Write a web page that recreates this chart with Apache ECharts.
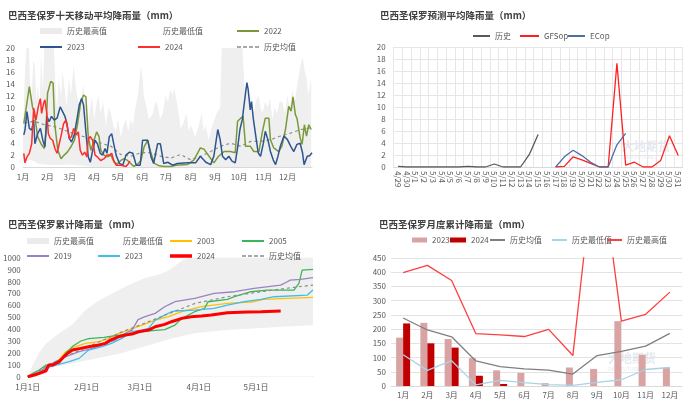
<!DOCTYPE html>
<html>
<head>
<meta charset="utf-8">
<script src="https://cdn.jsdelivr.net/npm/echarts@6/dist/echarts.min.js"></script>
<style>
  html, body { margin: 0; padding: 0; background: #fff; }
  .box { position: absolute; }
</style>
</head>
<body>
<div id="rain10" class="box" style="left:0;top:0;width:350px;height:200px;"></div>
<div id="rainFcst" class="box" style="left:350px;top:0;width:350px;height:200px;"></div>
<div id="rainCum" class="box" style="left:0;top:200px;width:350px;height:205px;"></div>
<div id="rainMonth" class="box" style="left:350px;top:200px;width:350px;height:205px;"></div>
<script>
var FONT = "'Noto Sans CJK SC', 'Noto Sans', sans-serif";

// ---- 十天移动平均降雨量 [日序号, mm] ----
var histMax10 = [[0,6],[2.5,16],[4.4,20],[7.6,20],[9,14],[11,12],[13,18],[15,17],[17,11],[19,14],[21,9],[22.7,19],[25,13],[27,20],[29,20],[35,20],[39,20],[41.6,12],[43,9.6],[45,15],[48,12],[50,16],[52,14],[55,10],[58,15],[60.5,12],[64,17],[67,13],[70,11],[73,10],[76,14],[78,11],[82,7.5],[85,10],[87,12],[90,8],[92,10],[95,12],[98,9],[101,11],[104.6,7],[108,10],[111,9],[114,7],[117,6],[120,8],[123.5,5],[127,7],[130,8],[133,6],[136,8],[139,7],[142,10],[145,12],[149,17],[151,15],[152.5,12],[156,10],[159,8],[164,9],[167,11],[170,10.4],[173,8],[176.5,9],[180,12],[183,11],[186,13],[189,12],[191,13.3],[193,13],[196.6,9],[199,6.5],[201.7,7],[204,8],[206.7,9],[209,6],[212,7],[215,6],[217,5],[220,6],[222,7],[225.6,9],[228,6],[230.6,7],[234.4,4.5],[237,6],[239.5,7],[242,8],[244.5,9],[249,10],[251,20],[277,20],[280,13],[283,14],[285,11],[288,12],[291,9],[294,11],[297.5,12],[300,10],[302.5,9],[306,11],[309,10],[312,11.6],[315,8],[318,10],[321,9],[324,11],[327.7,11],[331,9],[334,12],[337,10],[340,13],[343,11],[346.6,14],[350.4,17],[353,18.5],[356,16],[358,15],[360.5,12],[364,15]];
var histMin10 = [[0,0.8],[10,1.2],[20,0.5],[40,0.3],[60,0.4],[90,0],[365,0]];
var rain2022 = [[1,7.3],[8,13.5],[12,10.1],[14,9.3],[18.5,5.1],[22.7,3.9],[27,3.1],[29,6.2],[31,12.4],[35,14.4],[38,14.1],[40,7.3],[44,2.8],[48,1.4],[52,2],[56,2.5],[60.5,3.4],[65,4.5],[69,7.3],[73,11],[76.5,12.1],[79.4,11.8],[82.4,5.1],[85.7,2.8],[89,4.2],[93,5.9],[96,5.1],[98.3,2.8],[102.5,2],[106.7,1.7],[111,2],[115,0.8],[119,0.5],[123.5,1.1],[127.7,1.4],[132,1.1],[136,0.6],[140,0.1],[145,0.5],[149,1.1],[153,3.4],[157.5,4.5],[161.7,2.3],[166,0.6],[172,0.2],[178,0.1],[187,0.1],[193,0.3],[207.5,0.4],[216,1.2],[224,3.2],[228.5,3],[235,1.8],[241,0.7],[247,1.8],[254,2.6],[262,2.6],[268,2.4],[271,7.7],[275,8.2],[278,8.5],[281,3.5],[287,3.5],[291.5,2.6],[298,2.6],[302,5.7],[306,8.2],[310.5,8.2],[312.5,4.6],[316.7,3.2],[323,2.6],[327,3.5],[331.5,6.3],[335.6,10.2],[338.6,9.4],[341,11.8],[344,8.8],[346,8.2],[350,4.9],[352.5,3.8],[355.4,7.1],[358,5.2],[361,7.1],[364,6.3]];
var rain2023 = [[1,5.4],[2.5,6.2],[5,9.3],[8,6.5],[11,6.2],[13.5,7.9],[15,3.9],[18.5,5.6],[22,6.5],[25,4.5],[27.7,3.4],[30.3,8.5],[33,7.6],[36,8.5],[39.5,7.9],[43,8.2],[47,10.1],[50,9.3],[53,8.5],[55.5,7.3],[58.4,4.8],[61.3,4.2],[64.7,5.4],[68,7.9],[71,10.4],[74,11.5],[76.5,10.4],[79.4,5.9],[82.4,1.7],[85,0.8],[88,2.8],[91,4.5],[94,3.9],[97.5,2.3],[100.6,2],[103.6,3.1],[106,2.3],[109,5.1],[112,5.6],[114.6,3.9],[117.6,2],[121.8,0.6],[126,0.3],[130,2],[134.5,2.5],[138.7,2.3],[143,0.3],[148,0.3],[151,4.5],[157.5,4.5],[161.7,1.7],[165,0.6],[170,3.9],[173.5,3.9],[177.7,0.6],[182.8,0.8],[189,0.3],[195,0.6],[207.5,0.7],[218,0.7],[224,1.8],[231,0.8],[237,0.4],[241,1.8],[246,6.3],[249,4.6],[252,1.8],[256,1.2],[260,1.8],[264,1],[268,0.7],[271,3.2],[274,6.3],[277,8],[280,11.3],[282.8,14.2],[284.4,13],[287,9.6],[288.6,11],[291,8],[294,5.2],[297,2.4],[300,1.8],[303.6,4],[306,6],[309.3,4.6],[312.5,2.6],[316,1.2],[319,0.4],[322,1.8],[325,3.5],[329.6,5.2],[334,4.6],[338,3.5],[342,2.6],[346,3.8],[350,4],[353,2.4],[355,0.4],[359,1.8],[362,1.9],[365,2.4]];
var rain2024 = [[1,2.3],[2.5,0.7],[5,1.7],[8,2.3],[11,3.9],[13.5,9.9],[16.4,7.9],[19.3,10.1],[21.9,11.5],[23.5,9],[26,10.7],[27.7,11.3],[30.3,8.7],[32,5.6],[34.5,4.8],[37.5,4.5],[40.3,3.1],[43,2.3],[45.8,3.9],[48.7,5.6],[51.3,7.3],[54.2,7.9],[56.3,6.5],[58.4,4.8],[61.3,5.1],[64,6.5],[66.8,5.4],[69.8,5.9],[72.3,2.8],[75.2,2],[78,2.5],[80.7,1.7],[82.4,4.8],[85,5.1],[88,4.5],[91,2],[94,1.7],[98,1.1],[102.5,1.4],[106,2],[109,2],[112,2.3],[114.6,1.1],[117.6,0.3],[124,0.3],[130,0.1],[133.3,0.6],[135,1]];
var mean10 = [[1.7,7.4],[14.3,7.7],[26.9,7.1],[39.5,6.8],[56.3,6],[68.9,5.4],[81.5,4.9],[98.3,4],[111,3.5],[123.5,2.1],[136,1.8],[148.7,2.4],[161.3,2.4],[174,1.8],[186.6,1.5],[199,2.1],[211.8,1.2],[224.4,1.8],[237,2.6],[249.6,3.5],[262,4],[275,3.5],[287.6,4.3],[300,4.3],[313,4.6],[325,5.2],[338,5.7],[350.8,6.3],[365,6.6]];
var monthStart = [0,31,59,90,120,151,181,212,243,273,304,334];
var monthName = ['1月','2月','3月','4月','5月','6月','7月','8月','9月','10月','11月','12月'];

// ---- 预测平均降雨量 ----
var fcstDates = ['4/29','4/30','5/1','5/2','5/3','5/4','5/5','5/6','5/7','5/8','5/9','5/10','5/11','5/12','5/13','5/14','5/15','5/16','5/17','5/18','5/19','5/20','5/21','5/22','5/23','5/24','5/25','5/26','5/27','5/28','5/29','5/30','5/31'];
var fcstHist = [0.1,0,0,0,0,0,0,0,0.1,0,0,0.5,0,0,0,2.1,5.4,null,null,null,null,null,null,null,null,null,null,null,null,null,null,null,null];
var fcstGfs = [null,null,null,null,null,null,null,null,null,null,null,null,null,null,null,null,null,null,0,0.1,1.7,1.2,0.6,0,0,17.3,0.3,0.8,0,0,1.1,5.2,1.9];
var fcstEc = [null,null,null,null,null,null,null,null,null,null,null,null,null,null,null,null,null,null,0,1.7,2.8,1.9,0.8,0,0,3.7,5.6,null,null,null,null,null,null];

// ---- 累计降雨量 [日序号, mm] ----
var cumMax = [[0,0],[2.6,100],[6,200],[9.6,280],[16.5,364],[23.5,440],[30.4,560],[37.4,640],[44.3,700],[53,770],[61.7,830],[70.4,865],[75,900],[81,975],[86,1010],[95,1040],[150,1100]];
var cumMin = [[0,0],[2.6,10],[14.6,84],[32,140],[49.5,200],[66.8,280],[75.6,320],[87.6,365],[105,392],[122.6,410],[150,434]];
var cum2003 = [[0,0],[5,30],[10,80],[14.8,112],[20,210],[25,252],[30.4,280],[37.4,294],[42.6,322],[47.8,364],[53,392],[60,434],[67,476],[74,504],[81,546],[91.3,588],[105,616],[119,630],[124,650],[136.5,658],[150,667]];
var cum2005 = [[0,0],[2.6,28],[6,56],[9.6,98],[16.5,112],[20,200],[24,260],[28,300],[32,320],[40,330],[46,345],[52,356],[60,380],[67,390],[72,395],[77.4,434],[81,490],[87.8,546],[93,574],[94.8,630],[105,650],[108.7,672],[117.4,714],[126,728],[140,728],[142.6,785],[144.3,896],[150,902]];
var cum2019 = [[0,0],[6,40],[11,98],[20,168],[27,210],[34,238],[40.8,280],[46,308],[49.5,350],[54.8,392],[58,480],[61.7,504],[67,532],[72,588],[75.6,616],[77.4,630],[87.8,658],[98,700],[108.7,714],[119,742],[133,770],[136.5,798],[138,812],[143.5,818],[150,832]];
var cum2023 = [[0,0],[6,35],[11,80],[14.8,98],[21.8,126],[27,154],[32,224],[39,252],[44,280],[49.5,322],[54.8,378],[60,392],[63.5,406],[67,476],[72,518],[75.6,546],[77.4,552],[87.8,560],[98,574],[105,602],[113.9,630],[122.6,650],[129.5,672],[147,686],[150,728]];
var cum2024 = [[0,0],[3.5,14],[6.1,28],[9.6,50],[11,98],[13,98],[16.5,126],[19,168],[21,197],[23.5,224],[27.8,238],[32,252],[37.4,266],[40.8,280],[43.5,308],[47.8,336],[51.3,350],[54.8,358],[58.3,378],[63.5,392],[67,420],[72,440],[75.6,462],[81,490],[86,504],[91.3,510],[96.5,518],[105,538],[115.6,543],[122.6,546],[133,552]];
var cumMean = [[0,0],[5,40],[10,90],[20,170],[30,240],[40,310],[50,380],[60,440],[70,504],[79,560],[88,616],[105,672],[122.6,714],[140,751],[150,770]];
var cumTicks = [0,31,59,90,120];
var cumTickName = ['1月1日','2月1日','3月1日','4月1日','5月1日'];

// ---- 月度累计降雨量 ----
var months = ['1月','2月','3月','4月','5月','6月','7月','8月','9月','10月','11月','12月'];
var month2023 = [170,222,165,98,55,46,10,65,60,228,110,65];
var month2024 = [220,150,135,36,7,null,null,null,null,null,null,null];
var monthMean = [239,197,173,88,68,60,56,42,107,122,140,185];
var monthMin = [110,55,89,4,20,12,5,2,13,22,58,65];
var monthMax = [399,424,371,184,180,174,199,107,880,228,252,330];

var SOLID = 'path://M0,0h22v2h-22z';
var DASH = 'path://M0,0h4v2h-4zM6,0h4v2h-4zM12,0h4v2h-4zM18,0h4v2h-4z';

// 图例：每项单独放，位置对齐原图
function lg(left, cy, item, w, h) {
  return {
    left: left, top: cy - 6, data: [item], padding: 0, itemGap: 0,
    itemWidth: w || 22, itemHeight: h || 2, selectedMode: false, symbolKeepAspect: false,
    lineStyle: { width: 0 },
    textStyle: { color: '#595959', fontSize: 8, fontFamily: FONT }
  };
}
function ln(name, dashed) { return { name: name, icon: dashed ? DASH : SOLID }; }
function ttl(text, left, top) {
  return { text: text, left: left, top: top, padding: 0,
    textStyle: { fontSize: 9.5, fontWeight: 'bold', color: '#404040', fontFamily: FONT } };
}
function mark(left, top) {
  return { type: 'group', left: left, top: top, silent: true, children: [
    { type: 'text', left: 0, top: 0, style: { text: '大地期货', fontSize: 12, fontWeight: 'bold', fill: 'rgba(165,180,205,0.3)', fontFamily: FONT } },
    { type: 'text', left: 0, top: 15, style: { text: 'DADI FUTURES', fontSize: 5, fill: 'rgba(165,180,205,0.3)', fontFamily: FONT } }
  ] };
}
var axisTxt = { color: '#595959', fontSize: 8, fontFamily: FONT };
var plain = function (v) { return String(v); };

// 第一个图
var option = {
  animation: false,
  title: ttl('巴西圣保罗十天移动平均降雨量（mm）', 8, 11),
  legend: [
    lg(40, 33, { name: '历史最高值', icon: 'rect', itemStyle: { color: '#ebebeb' } }, 22, 6),
    lg(136, 33, { name: '历史最低值', icon: 'rect', itemStyle: { color: '#ffffff' } }, 22, 6),
    lg(237, 33, ln('2022')),
    lg(40, 49, ln('2023')),
    lg(138, 49, ln('2024')),
    lg(237, 49, ln('历史均值', true), 22, 1.5)
  ],
  grid: { left: 23, top: 48, width: 289, height: 119 },
  xAxis: { type: 'value', min: 0, max: 365,
    axisLine: { show: true, lineStyle: { color: '#d9d9d9' } }, axisTick: { show: false }, splitLine: { show: false },
    axisLabel: Object.assign({ customValues: monthStart, margin: 6, formatter: function (v) { return monthName[monthStart.indexOf(v)]; } }, axisTxt) },
  yAxis: { type: 'value', min: 0, max: 20, interval: 2,
    axisLine: { show: false }, axisTick: { show: false }, splitLine: { show: false },
    axisLabel: Object.assign({ margin: 8, formatter: plain }, axisTxt) },
  graphic: [mark(228, 135)],
  series: [
    { name: '历史最高值', type: 'line', data: histMax10, symbol: 'none', lineStyle: { width: 0 }, itemStyle: { color: '#ebebeb' }, areaStyle: { color: '#efefef', opacity: 1 }, z: 1 },
    { name: '历史最低值', type: 'line', data: histMin10, symbol: 'none', lineStyle: { width: 0 }, itemStyle: { color: '#ffffff' }, areaStyle: { color: '#ffffff', opacity: 1 }, z: 1 },
    { name: '2022', type: 'line', data: rain2022, symbol: 'none', lineStyle: { width: 1.5, color: '#7a9a3a' }, itemStyle: { color: '#7a9a3a' }, z: 3 },
    { name: '2023', type: 'line', data: rain2023, symbol: 'none', lineStyle: { width: 1.5, color: '#2e5590' }, itemStyle: { color: '#2e5590' }, z: 4 },
    { name: '2024', type: 'line', data: rain2024, symbol: 'none', lineStyle: { width: 1.5, color: '#ff2d2d' }, itemStyle: { color: '#ff2d2d' }, z: 5 },
    { name: '历史均值', type: 'line', data: mean10, symbol: 'none', lineStyle: { width: 1.2, color: '#8c8c8c', type: [3, 3] }, itemStyle: { color: '#8c8c8c' }, z: 2 }
  ]
};
echarts.init(document.getElementById('rain10')).setOption(option);

// 第二个图
var option1 = {
  animation: false,
  title: ttl('巴西圣保罗预测平均降雨量（mm）', 30, 11),
  legend: [
    lg(123, 38, ln('历史'), 17),
    lg(170, 38, ln('GFSop'), 19),
    lg(218, 38, ln('ECop'), 17)
  ],
  grid: { left: 43.6, top: 47, width: 289, height: 120 },
  xAxis: { type: 'category', data: fcstDates, boundaryGap: true,
    axisLine: { show: true, lineStyle: { color: '#d9d9d9' } }, axisTick: { show: false },
    splitLine: { show: true, lineStyle: { color: '#e6e6e6', width: 1 } },
    axisLabel: Object.assign({ interval: 0, rotate: -90, margin: 4 }, axisTxt) },
  yAxis: { type: 'value', min: 0, max: 20, interval: 2,
    axisLine: { show: false }, axisTick: { show: false },
    splitLine: { show: true, lineStyle: { color: '#e6e6e6' } },
    axisLabel: Object.assign({ margin: 8, formatter: plain }, axisTxt) },
  graphic: [mark(272, 140)],
  series: [
    { name: '历史', type: 'line', data: fcstHist, symbol: 'none', lineStyle: { width: 1.3, color: '#595959' }, itemStyle: { color: '#595959' } },
    { name: 'GFSop', type: 'line', data: fcstGfs, symbol: 'none', lineStyle: { width: 1.3, color: '#ff1f1f' }, itemStyle: { color: '#ff1f1f' } },
    { name: 'ECop', type: 'line', data: fcstEc, symbol: 'none', lineStyle: { width: 1.3, color: '#4a6fa5' }, itemStyle: { color: '#4a6fa5' } }
  ]
};
echarts.init(document.getElementById('rainFcst')).setOption(option1);

// 第三个图
var option2 = {
  animation: false,
  title: ttl('巴西圣保罗累计降雨量（mm）', 8, 20),
  legend: [
    lg(27, 43, { name: '历史最高值', icon: 'rect', itemStyle: { color: '#ebebeb' } }, 22, 6),
    lg(96, 43, { name: '历史最低值', icon: 'rect', itemStyle: { color: '#ffffff' } }, 22, 6),
    lg(170, 43, ln('2003')),
    lg(242, 43, ln('2005')),
    lg(27, 58, ln('2019')),
    lg(98, 58, ln('2023')),
    lg(170, 58, ln('2024'), 22, 3.5),
    lg(242, 58, ln('历史均值', true), 22, 1.5)
  ],
  grid: { left: 25, top: 57.7, width: 288, height: 119 },
  xAxis: { type: 'value', min: 0, max: 150,
    axisLine: { show: true, lineStyle: { color: '#d9d9d9' } }, axisTick: { show: false }, splitLine: { show: false },
    axisLabel: Object.assign({ customValues: cumTicks, margin: 6, formatter: function (v) { return cumTickName[cumTicks.indexOf(v)]; } }, axisTxt) },
  yAxis: { type: 'value', min: 0, max: 1000, interval: 100,
    axisLine: { show: false }, axisTick: { show: false }, splitLine: { show: false },
    axisLabel: Object.assign({ margin: 7, formatter: plain }, axisTxt) },
  graphic: [mark(248, 148)],
  series: [
    { name: '历史最高值', type: 'line', data: cumMax, symbol: 'none', lineStyle: { width: 0 }, itemStyle: { color: '#ebebeb' }, areaStyle: { color: '#efefef', opacity: 1 }, z: 1 },
    { name: '历史最低值', type: 'line', data: cumMin, symbol: 'none', lineStyle: { width: 0 }, itemStyle: { color: '#ffffff' }, areaStyle: { color: '#ffffff', opacity: 1 }, z: 1 },
    { name: '2003', type: 'line', data: cum2003, symbol: 'none', lineStyle: { width: 1.3, color: '#ffc000' }, itemStyle: { color: '#ffc000' }, z: 3 },
    { name: '2005', type: 'line', data: cum2005, symbol: 'none', lineStyle: { width: 1.3, color: '#3cb55a' }, itemStyle: { color: '#3cb55a' }, z: 3 },
    { name: '2019', type: 'line', data: cum2019, symbol: 'none', lineStyle: { width: 1.3, color: '#9a82c4' }, itemStyle: { color: '#9a82c4' }, z: 3 },
    { name: '2023', type: 'line', data: cum2023, symbol: 'none', lineStyle: { width: 1.3, color: '#3dbdf0' }, itemStyle: { color: '#3dbdf0' }, z: 3 },
    { name: '2024', type: 'line', data: cum2024, symbol: 'none', lineStyle: { width: 3, color: '#ff0000' }, itemStyle: { color: '#ff0000' }, z: 5 },
    { name: '历史均值', type: 'line', data: cumMean, symbol: 'none', lineStyle: { width: 1.2, color: '#8c8c8c', type: [3, 3] }, itemStyle: { color: '#8c8c8c' }, z: 4 }
  ]
};
echarts.init(document.getElementById('rainCum')).setOption(option2);

// 第四个图
var option3 = {
  animation: false,
  title: ttl('巴西圣保罗月度累计降雨量（mm）', 29, 20),
  legend: [
    lg(62, 42, { name: '2023', icon: 'rect' }, 15, 5),
    lg(100, 42, { name: '2024', icon: 'rect' }, 16, 5),
    lg(140, 42, ln('历史均值'), 15),
    lg(202, 42, ln('历史最低值'), 15),
    lg(257, 42, ln('历史最高值'), 15)
  ],
  grid: { left: 41, top: 58, width: 291, height: 128 },
  xAxis: { type: 'category', data: months, boundaryGap: true,
    axisLine: { show: true, lineStyle: { color: '#d9d9d9' } }, axisTick: { show: false },
    axisLabel: Object.assign({ interval: 0, margin: 5 }, axisTxt) },
  yAxis: { type: 'value', min: 0, max: 450, interval: 50,
    axisLine: { show: false }, axisTick: { show: false },
    splitLine: { show: true, lineStyle: { color: '#e3e3e3' } },
    axisLabel: Object.assign({ margin: 5, formatter: plain }, axisTxt) },
  graphic: [mark(258, 152)],
  series: [
    { name: '2023', type: 'bar', data: month2023, barWidth: 7, barGap: '0%', itemStyle: { color: '#d9a3a3' } },
    { name: '2024', type: 'bar', data: month2024, barWidth: 7, itemStyle: { color: '#c00000' } },
    { name: '历史均值', type: 'line', data: monthMean, symbol: 'none', lineStyle: { width: 1.3, color: '#7f7f7f' }, itemStyle: { color: '#7f7f7f' } },
    { name: '历史最低值', type: 'line', data: monthMin, symbol: 'none', lineStyle: { width: 1.3, color: '#a9d3e6' }, itemStyle: { color: '#a9d3e6' } },
    { name: '历史最高值', type: 'line', data: monthMax, symbol: 'none', lineStyle: { width: 1.3, color: '#ff3f3f' }, itemStyle: { color: '#ff3f3f' } }
  ]
};
echarts.init(document.getElementById('rainMonth')).setOption(option3);
</script>
</body>
</html>
